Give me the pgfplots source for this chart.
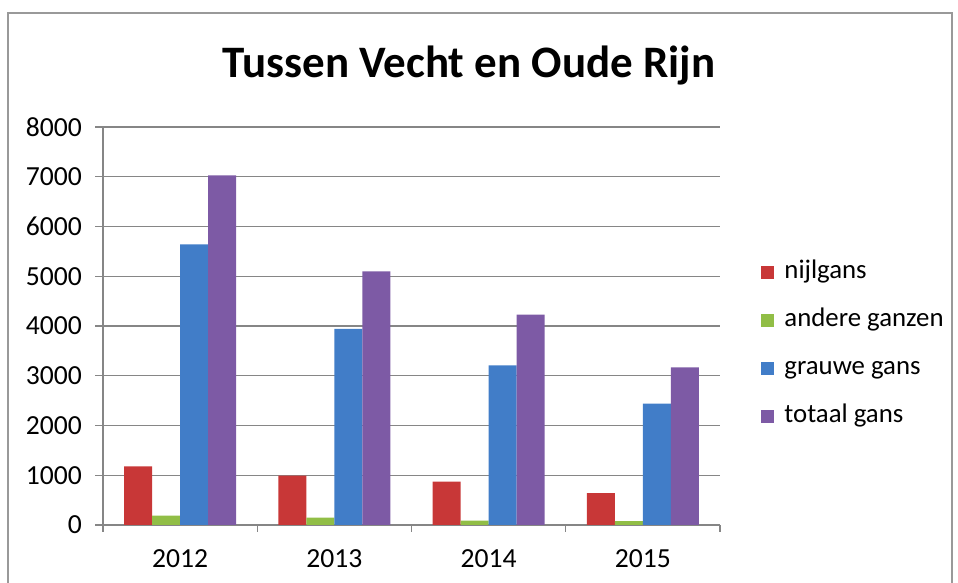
\documentclass[border=0pt]{standalone}
\usepackage{pgfplots}
\pgfplotsset{compat=1.18}
\usepackage{fontspec}
\setmainfont{Carlito}
\definecolor{cRed}{RGB}{200,55,55}
\definecolor{cGreen}{RGB}{145,190,70}
\definecolor{cBlue}{RGB}{65,125,200}
\definecolor{cPurple}{RGB}{125,90,165}
\definecolor{gridc}{RGB}{134,134,134}
\begin{document}
\begin{tikzpicture}
\path[use as bounding box] (0,0) rectangle (479pt,291.5pt);
\draw[gray!80, line width=1pt] (4pt,-5pt) -- (4pt,285pt) -- (476pt,285pt) -- (476pt,-5pt);
\begin{axis}[
  at={(51.5pt,29pt)}, anchor=south west,
  scale only axis, width=308.5pt, height=199pt,
  ybar=0pt, bar width=14pt,
  xmin=-0.5, xmax=3.5, ymin=0, ymax=8000,
  xtick={0,1,2,3}, xticklabels={2012,2013,2014,2015},
  minor xtick={-0.5,0.5,1.5,2.5,3.5},
  major x tick style={draw=none},
  minor tick length=3.5pt,
  ytick={0,1000,...,8000},
  tick align=outside, major tick length=4pt,
  tick style={gridc, line width=0.6pt},
  axis x line*=bottom, axis y line*=left,
  axis line style={gridc, line width=0.6pt, -},
  ymajorgrids, grid style={gridc, line width=0.6pt},
  /pgf/number format/assume math mode=true,
  /pgf/number format/1000 sep={},
  tick label style={font=\fontsize{13.8pt}{15pt}\selectfont},
  yticklabel style={xshift=-3pt},
  xticklabel style={yshift=-5pt},
  title={\bfseries Tussen Vecht en Oude Rijn},
  title style={font=\fontsize{22.5pt}{26pt}\selectfont, at={(0.593,1.093)}, anchor=base, inner sep=0pt},
  legend image code/.code={\fill[#1,draw=none] (0pt,-3.25pt) rectangle (6.5pt,3.25pt); \path (10.5pt,0pt);},
  legend cell align=left,
  legend style={draw=none, fill=none, at={(1.0665,0.671)}, anchor=north west, inner sep=0pt,
    row sep=10pt, font=\fontsize{13.4pt}{15pt}\selectfont,
    nodes={inner sep=1pt, text height=9pt, text depth=3pt}},
]
\addplot[fill=cRed, draw=none] coordinates {(0,1180) (1,990) (2,870) (3,640)};
\addplot[fill=cGreen, draw=none] coordinates {(0,190) (1,150) (2,90) (3,80)};
\addplot[fill=cBlue, draw=none] coordinates {(0,5640) (1,3940) (2,3210) (3,2440)};
\addplot[fill=cPurple, draw=none] coordinates {(0,7030) (1,5100) (2,4230) (3,3170)};
\legend{nijlgans, andere ganzen, grauwe gans, totaal gans}
\end{axis}
\end{tikzpicture}
\end{document}
